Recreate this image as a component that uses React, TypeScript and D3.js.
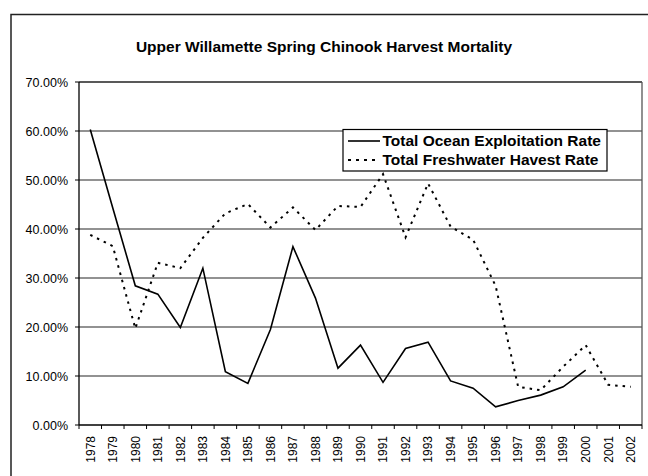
import * as d3 from "d3";

const WIDTH = 648;
const HEIGHT = 476;
const MARGIN = { top: 82, right: 6, bottom: 51, left: 79 };
const FONT = "'Liberation Sans', Arial, sans-serif";

const YEARS = [
  "1978", "1979", "1980", "1981", "1982", "1983", "1984", "1985", "1986", "1987",
  "1988", "1989", "1990", "1991", "1992", "1993", "1994", "1995", "1996", "1997",
  "1998", "1999", "2000", "2001", "2002",
];

// percent values; null = no point
const OCEAN = [
  60.3, 44.3, 28.4, 26.7, 19.9, 32.0, 10.9, 8.5, 19.5, 36.4,
  25.9, 11.6, 16.3, 8.7, 15.6, 16.9, 9.0, 7.5, 3.7, 5.0,
  6.1, 7.8, 11.2, null, null,
];
const FRESHWATER = [
  38.8, 36.5, 19.7, 33.1, 32.0, 38.2, 43.2, 45.1, 40.3, 44.4,
  39.8, 44.7, 44.5, 51.2, 38.3, 49.3, 40.5, 37.8, 28.4, 7.8,
  7.1, 11.9, 16.3, 8.2, 7.8,
];
const Y_TICKS = [0, 10, 20, 30, 40, 50, 60, 70];

export default function App() {
  const x = d3
    .scaleBand()
    .domain(YEARS)
    .range([MARGIN.left, WIDTH - MARGIN.right]);
  const y = d3
    .scaleLinear()
    .domain([0, 70])
    .range([HEIGHT - MARGIN.bottom, MARGIN.top]);
  const cx = (yr: string) => (x(yr) ?? 0) + x.bandwidth() / 2;

  const line = d3
    .line<number | null>()
    .defined((d) => d != null)
    .x((_, i) => cx(YEARS[i]))
    .y((d) => y(d as number));

  const x0 = MARGIN.left;
  const x1 = WIDTH - MARGIN.right;
  const y0 = HEIGHT - MARGIN.bottom;
  const yTop = MARGIN.top;

  return (
    <svg
      width={WIDTH}
      height={HEIGHT}
      style={{ position: "absolute", left: 0, top: 0, background: "#fff" }}
      fontFamily={FONT}
    >
      <rect x={0} y={0} width={WIDTH} height={HEIGHT} fill="#fff" />
      {/* outer chart frame, runs off the right/bottom edge */}
      <rect x={11} y={14.5} width={WIDTH + 20} height={HEIGHT + 20} fill="none" stroke="#222" strokeWidth={1.5} />

      <text x={324} y={52} textAnchor="middle" fontSize={15.5} fontWeight="bold" fill="#000">
        Upper Willamette Spring Chinook Harvest Mortality
      </text>

      {Y_TICKS.map((t) => (
        <g key={`y-${t}`}>
          {t > 0 && t < 70 && (
            <line x1={x0} x2={x1} y1={y(t)} y2={y(t)} stroke="#6e6e6e" strokeWidth={1.3} />
          )}
          <line x1={x0 - 4} x2={x0} y1={y(t)} y2={y(t)} stroke="#000" />
          <text x={68} y={y(t) + 4.5} textAnchor="end" fontSize={12.5} fill="#000">
            {t.toFixed(2)}%
          </text>
        </g>
      ))}

      {/* plot frame */}
      <line x1={x0} x2={x1} y1={yTop} y2={yTop} stroke="#222" strokeWidth={1.3} />
      <line x1={x1} x2={x1} y1={yTop} y2={y0} stroke="#555" strokeWidth={1.3} />
      <line x1={x0} x2={x0} y1={yTop} y2={y0} stroke="#000" strokeWidth={1.3} />
      <line x1={x0} x2={x1} y1={y0} y2={y0} stroke="#000" strokeWidth={1.3} />

      {YEARS.map((yr) => (
        <line key={`xt-${yr}`} x1={x(yr) ?? 0} x2={x(yr) ?? 0} y1={y0} y2={y0 + 4} stroke="#000" />
      ))}
      <line x1={x1} x2={x1} y1={y0} y2={y0 + 4} stroke="#000" />

      {YEARS.map((yr) => (
        <text
          key={`xl-${yr}`}
          transform={`translate(${cx(yr) + 4.3} ${y0 + 11}) rotate(-90)`}
          textAnchor="end"
          fontSize={12}
          fill="#000"
        >
          {yr}
        </text>
      ))}

      <path d={line(FRESHWATER) ?? ""} fill="none" stroke="#000" strokeWidth={2} strokeDasharray="2.5 5" />
      <path d={line(OCEAN) ?? ""} fill="none" stroke="#000" strokeWidth={1.6} />

      <g transform="translate(343 129.5)">
        <rect x={0} y={0} width={264} height={41.5} fill="#fff" stroke="#000" strokeWidth={1.2} />
        <line x1={5} x2={37} y1={11.5} y2={11.5} stroke="#000" strokeWidth={1.6} />
        <text x={39.5} y={16} fontSize={15.5} fontWeight="bold" fill="#000">
          Total Ocean Exploitation Rate
        </text>
        <line x1={5} x2={37} y1={30.5} y2={30.5} stroke="#000" strokeWidth={2} strokeDasharray="3 5" />
        <text x={39.5} y={35.5} fontSize={15.5} fontWeight="bold" fill="#000">
          Total Freshwater Havest Rate
        </text>
      </g>
    </svg>
  );
}
